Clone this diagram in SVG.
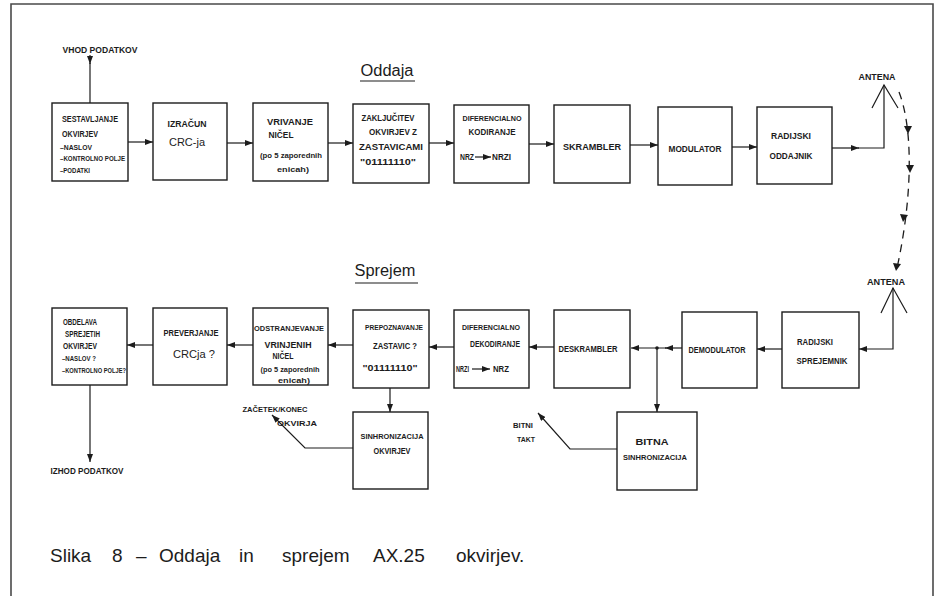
<svg xmlns="http://www.w3.org/2000/svg" width="941" height="596" viewBox="0 0 941 596">
  <style>
    .frame { fill: none; stroke: #4a4a4a; stroke-width: 1.6; }
    .box { fill: none; stroke: #1c1c1c; stroke-width: 1.4; }
    .ln { fill: none; stroke: #1c1c1c; stroke-width: 1.2; }
    .dash { fill: none; stroke: #1c1c1c; stroke-width: 1.3; stroke-dasharray: 8 6; }
    .head { fill: #1c1c1c; }
    .t { font-family: "Liberation Sans", Arial, sans-serif; font-size: 8.5px; font-weight: bold; fill: #1c1c1c; text-anchor: middle; }
    .l { text-anchor: start; }
    .sm { font-size: 7.5px; }
    .big { font-size: 11px; font-weight: normal; }
    .title { font-family: "Liberation Sans", Arial, sans-serif; font-size: 16px; fill: #1c1c1c; text-anchor: middle; }
    .cap { font-family: "Liberation Sans", Arial, sans-serif; font-size: 19px; fill: #1c1c1c; }
  </style>
  <defs>
    <marker id="arr" markerUnits="userSpaceOnUse" markerWidth="8" markerHeight="6" refX="8" refY="3" orient="auto">
      <path d="M0,0 L8,3 L0,6 z" fill="#1c1c1c"/>
    </marker>
  </defs>

  <rect width="941" height="596" fill="#ffffff"/>
  <path class="frame" d="M11,596 V4 H933 V596"/>

  <!-- section titles -->
  <g id="title-oddaja">
    <text class="title" x="387" y="76" textLength="53" lengthAdjust="spacingAndGlyphs">Oddaja</text>
    <path class="ln" d="M360,81 H415"/>
  </g>
  <g id="title-sprejem">
    <text class="title" x="385" y="276" textLength="61" lengthAdjust="spacingAndGlyphs">Sprejem</text>
    <path class="ln" d="M355,283 H418"/>
  </g>

  <!-- transmit chain -->
  <g id="vhod">
    <text class="t" x="100" y="53" textLength="75" lengthAdjust="spacingAndGlyphs">VHOD PODATKOV</text>
  </g>
  <g id="sestavljanje">
    <rect class="box" x="52" y="103" width="76" height="78"/>
    <text class="t l" x="62" y="122" textLength="56" lengthAdjust="spacingAndGlyphs">SESTAVLJANJE</text>
    <text class="t l" x="62" y="137" textLength="36" lengthAdjust="spacingAndGlyphs">OKVIRJEV</text>
    <text class="t l sm" x="60" y="150" textLength="32" lengthAdjust="spacingAndGlyphs">–NASLOV</text>
    <text class="t l sm" x="60" y="161" textLength="65" lengthAdjust="spacingAndGlyphs">–KONTROLNO POLJE</text>
    <text class="t l sm" x="60" y="173" textLength="30" lengthAdjust="spacingAndGlyphs">–PODATKI</text>
  </g>
  <g id="izracun">
    <rect class="box" x="153" y="103" width="74" height="77"/>
    <text class="t" x="187" y="127" textLength="39" lengthAdjust="spacingAndGlyphs">IZRAČUN</text>
    <text class="t big" x="187" y="146" textLength="36" lengthAdjust="spacingAndGlyphs">CRC-ja</text>
  </g>
  <g id="vrivanje">
    <rect class="box" x="253" y="103" width="75" height="78"/>
    <text class="t" x="290" y="125" textLength="46" lengthAdjust="spacingAndGlyphs">VRIVANJE</text>
    <text class="t" x="281" y="138" textLength="25" lengthAdjust="spacingAndGlyphs">NIČEL</text>
    <text class="t sm" x="291" y="158" textLength="62" lengthAdjust="spacingAndGlyphs">(po 5 zaporednih</text>
    <text class="t sm" x="293" y="172" textLength="32" lengthAdjust="spacingAndGlyphs">enicah)</text>
  </g>
  <g id="zakljucitev">
    <rect class="box" x="353" y="104" width="76" height="79"/>
    <text class="t" x="388" y="121" textLength="53" lengthAdjust="spacingAndGlyphs">ZAKLJUČITEV</text>
    <text class="t" x="393" y="135" textLength="48" lengthAdjust="spacingAndGlyphs">OKVIRJEV Z</text>
    <text class="t" x="391" y="150" textLength="64" lengthAdjust="spacingAndGlyphs">ZASTAVICAMI</text>
    <text class="t" x="388" y="165" textLength="56" lengthAdjust="spacingAndGlyphs">"01111110"</text>
  </g>
  <g id="kodiranje">
    <rect class="box" x="454" y="105" width="75" height="78"/>
    <text class="t sm" x="492" y="121" textLength="59" lengthAdjust="spacingAndGlyphs">DIFERENCIALNO</text>
    <text class="t" x="492" y="135" textLength="47" lengthAdjust="spacingAndGlyphs">KODIRANJE</text>
    <text class="t l" x="460" y="160" textLength="14" lengthAdjust="spacingAndGlyphs">NRZ</text>
    <path class="ln" d="M475,157 H491" marker-end="url(#arr)"/>
    <text class="t l" x="492" y="160" textLength="19" lengthAdjust="spacingAndGlyphs">NRZI</text>
  </g>
  <g id="skrambler">
    <rect class="box" x="554" y="105" width="76" height="78"/>
    <text class="t" x="592" y="150" textLength="58" lengthAdjust="spacingAndGlyphs">SKRAMBLER</text>
  </g>
  <g id="modulator">
    <rect class="box" x="658" y="107" width="74" height="78"/>
    <text class="t" x="695" y="152" textLength="53" lengthAdjust="spacingAndGlyphs">MODULATOR</text>
  </g>
  <g id="oddajnik">
    <rect class="box" x="757" y="107" width="75" height="77"/>
    <text class="t" x="791" y="139" textLength="40" lengthAdjust="spacingAndGlyphs">RADIJSKI</text>
    <text class="t" x="791" y="159" textLength="43" lengthAdjust="spacingAndGlyphs">ODDAJNIK</text>
  </g>
  <g id="antena-tx">
    <text class="t" x="877" y="80" textLength="37" lengthAdjust="spacingAndGlyphs">ANTENA</text>
    <path class="ln" d="M872,108 L884,85 L898,108"/>
  </g>

  <!-- receive chain -->
  <g id="antena-rx">
    <text class="t" x="886" y="285" textLength="38" lengthAdjust="spacingAndGlyphs">ANTENA</text>
    <path class="ln" d="M881,313 L893,288 L907,313"/>
  </g>
  <g id="sprejemnik">
    <rect class="box" x="782" y="312" width="77" height="76"/>
    <text class="t" x="815" y="345" textLength="36" lengthAdjust="spacingAndGlyphs">RADIJSKI</text>
    <text class="t" x="822" y="364" textLength="51" lengthAdjust="spacingAndGlyphs">SPREJEMNIK</text>
  </g>
  <g id="demodulator">
    <rect class="box" x="682" y="312" width="75" height="76"/>
    <text class="t" x="717" y="353" textLength="57" lengthAdjust="spacingAndGlyphs">DEMODULATOR</text>
  </g>
  <g id="deskrambler">
    <rect class="box" x="554" y="310" width="76" height="78"/>
    <text class="t" x="588" y="352" textLength="59" lengthAdjust="spacingAndGlyphs">DESKRAMBLER</text>
  </g>
  <g id="dekodiranje">
    <rect class="box" x="454" y="310" width="75" height="78"/>
    <text class="t sm" x="491" y="330" textLength="58" lengthAdjust="spacingAndGlyphs">DIFERENCIALNO</text>
    <text class="t" x="495" y="347" textLength="50" lengthAdjust="spacingAndGlyphs">DEKODIRANJE</text>
    <text class="t l" x="456" y="372" textLength="13" lengthAdjust="spacingAndGlyphs">NRZI</text>
    <path class="ln" d="M472,369 H490" marker-end="url(#arr)"/>
    <text class="t l" x="493" y="372" textLength="16" lengthAdjust="spacingAndGlyphs">NRZ</text>
  </g>
  <g id="prepoznavanje">
    <rect class="box" x="353" y="310" width="76" height="78"/>
    <text class="t sm" x="394" y="330" textLength="58" lengthAdjust="spacingAndGlyphs">PREPOZNAVANJE</text>
    <text class="t" x="395" y="349" textLength="44" lengthAdjust="spacingAndGlyphs">ZASTAVIC ?</text>
    <text class="t" x="390" y="371" textLength="55" lengthAdjust="spacingAndGlyphs">"01111110"</text>
  </g>
  <g id="sinhronizacija-okvirjev">
    <rect class="box" x="353" y="412" width="75" height="77"/>
    <text class="t sm" x="392" y="439" textLength="63" lengthAdjust="spacingAndGlyphs">SINHRONIZACIJA</text>
    <text class="t" x="392" y="454" textLength="37" lengthAdjust="spacingAndGlyphs">OKVIRJEV</text>
  </g>
  <g id="bitna-sinhronizacija">
    <rect class="box" x="617" y="412" width="80" height="78"/>
    <text class="t" x="652" y="445" textLength="33" lengthAdjust="spacingAndGlyphs">BITNA</text>
    <text class="t sm" x="655" y="460" textLength="64" lengthAdjust="spacingAndGlyphs">SINHRONIZACIJA</text>
  </g>
  <g id="odstranjevanje">
    <rect class="box" x="253" y="308" width="75" height="77"/>
    <text class="t sm" x="289" y="331" textLength="70" lengthAdjust="spacingAndGlyphs">ODSTRANJEVANJE</text>
    <text class="t" x="288" y="348" textLength="47" lengthAdjust="spacingAndGlyphs">VRINJENIH</text>
    <text class="t" x="283" y="359" textLength="21" lengthAdjust="spacingAndGlyphs">NIČEL</text>
    <text class="t sm" x="290" y="372" textLength="59" lengthAdjust="spacingAndGlyphs">(po 5 zaporednih</text>
    <text class="t sm" x="294" y="383" textLength="32" lengthAdjust="spacingAndGlyphs">enicah)</text>
  </g>
  <g id="preverjanje">
    <rect class="box" x="153" y="308" width="74" height="77"/>
    <text class="t" x="191" y="336" textLength="55" lengthAdjust="spacingAndGlyphs">PREVERJANJE</text>
    <text class="t big" x="194" y="358" font-size="12" textLength="42" lengthAdjust="spacingAndGlyphs">CRCja ?</text>
  </g>
  <g id="obdelava">
    <rect class="box" x="52" y="308" width="75" height="77"/>
    <text class="t l" x="63" y="325" textLength="34" lengthAdjust="spacingAndGlyphs">OBDELAVA</text>
    <text class="t l" x="65" y="337" textLength="35" lengthAdjust="spacingAndGlyphs">SPREJETIH</text>
    <text class="t l" x="63" y="349" textLength="34" lengthAdjust="spacingAndGlyphs">OKVIRJEV</text>
    <text class="t l sm" x="62" y="361" textLength="34" lengthAdjust="spacingAndGlyphs">–NASLOV ?</text>
    <text class="t l sm" x="62" y="373" textLength="64" lengthAdjust="spacingAndGlyphs">–KONTROLNO POLJE?</text>
  </g>
  <g id="izhod">
    <text class="t" x="87" y="474" textLength="73" lengthAdjust="spacingAndGlyphs">IZHOD PODATKOV</text>
  </g>
  <g id="zacetek-label">
    <text class="t sm" x="275" y="412" textLength="65" lengthAdjust="spacingAndGlyphs">ZAČETEK/KONEC</text>
    <text class="t sm" x="297" y="426" textLength="40" lengthAdjust="spacingAndGlyphs">OKVIRJA</text>
  </g>
  <g id="bitni-takt">
    <text class="t sm" x="523" y="428" textLength="20" lengthAdjust="spacingAndGlyphs">BITNI</text>
    <text class="t sm" x="526" y="442" textLength="18" lengthAdjust="spacingAndGlyphs">TAKT</text>
  </g>

  <!-- connectors -->
  <g id="connectors">
    <path class="ln" d="M90,55 V64" marker-end="url(#arr)"/>
    <path class="ln" d="M90,63 V103"/>
    <path class="ln" d="M128,142 H153" marker-end="url(#arr)"/>
    <path class="ln" d="M227,143 H253" marker-end="url(#arr)"/>
    <path class="ln" d="M328,143 H353" marker-end="url(#arr)"/>
    <path class="ln" d="M429,143 H454" marker-end="url(#arr)"/>
    <path class="ln" d="M529,144 H554" marker-end="url(#arr)"/>
    <path class="ln" d="M630,145 H658" marker-end="url(#arr)"/>
    <path class="ln" d="M732,147 H757" marker-end="url(#arr)"/>
    <path class="ln" d="M832,148 H859" marker-end="url(#arr)"/>
    <path class="ln" d="M858,148 H884 V85"/>

    <!-- radio path between the antennas -->
    <path class="dash" d="M899,92 C912,125 914,190 897,268"/>
    <path class="head" d="M904,126 L912,126 L908,134 z"/>
    <path class="head" d="M906,165 L914,165 L910,173 z"/>
    <path class="head" d="M900,214 L908,215 L903,222 z"/>
    <path class="head" d="M893,263 L901,264 L896,271 z"/>

    <path class="ln" d="M893,288 V349 H859" marker-end="url(#arr)"/>
    <path class="ln" d="M782,349 H757" marker-end="url(#arr)"/>
    <path class="ln" d="M682,348 H665" marker-end="url(#arr)"/>
    <path class="ln" d="M666,348 H631" marker-end="url(#arr)"/>
    <circle cx="657" cy="348" r="1.8" fill="#1c1c1c"/>
    <path class="ln" d="M657,348 V412" marker-end="url(#arr)"/>
    <path class="ln" d="M554,347 H529" marker-end="url(#arr)"/>
    <path class="ln" d="M454,347 H429" marker-end="url(#arr)"/>
    <path class="ln" d="M353,345 H328" marker-end="url(#arr)"/>
    <path class="ln" d="M253,345 H227" marker-end="url(#arr)"/>
    <path class="ln" d="M153,345 H127" marker-end="url(#arr)"/>
    <path class="ln" d="M90,385 V462" marker-end="url(#arr)"/>
    <path class="ln" d="M390,388 V412" marker-end="url(#arr)"/>
    <path class="ln" d="M353,448 H305 L272,415" marker-end="url(#arr)"/>
    <path class="ln" d="M617,449 H570 L538,413" marker-end="url(#arr)"/>
  </g>

  <!-- caption -->
  <g id="caption">
    <text class="cap" x="50" y="562">Slika</text>
    <text class="cap" x="112" y="562">8</text>
    <text class="cap" x="136" y="562">–</text>
    <text class="cap" x="159" y="562">Oddaja</text>
    <text class="cap" x="239" y="562">in</text>
    <text class="cap" x="282" y="562">sprejem</text>
    <text class="cap" x="373" y="562">AX.25</text>
    <text class="cap" x="456" y="562">okvirjev.</text>
  </g>
</svg>
